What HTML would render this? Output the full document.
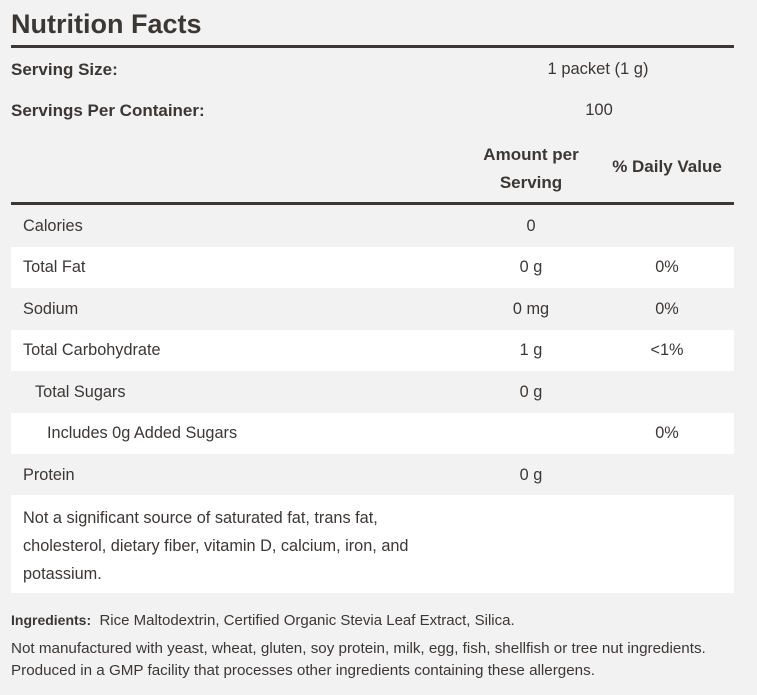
<!DOCTYPE html>
<html><head><style>
body{margin:0;width:757px;height:695px;background:#f2f2f2;font-family:"Liberation Sans",sans-serif;color:#3b3735;position:relative;overflow:hidden}
.a{position:absolute;white-space:nowrap}
.t{font-size:27px;font-weight:bold;left:11px;top:9px}
.b{font-size:17px;font-weight:bold}
.r{font-size:16.3px}
.row{position:absolute;left:11px;width:723px;height:41.5px}
.w{background:#fff}
.c{transform:translateX(-50%)}
</style></head><body>
<div class="a t">Nutrition Facts</div>
<div class="a" style="left:11px;top:45px;width:723px;height:3px;background:#3b3735"></div>
<div class="a b" style="left:11px;top:60px">Serving Size:</div>
<div class="a r c" style="left:598px;top:60px;font-size:16.5px">1 packet (1 g)</div>
<div class="a b" style="left:11px;top:101px">Servings Per Container:</div>
<div class="a r c" style="left:599px;top:101px;font-size:16.5px">100</div>
<div class="a b c" style="left:531px;top:141px;text-align:center;line-height:28px">Amount per<br>Serving</div>
<div class="a b c" style="left:667px;top:157px">% Daily Value</div>
<div class="a" style="left:11px;top:202px;width:723px;height:3px;background:#3b3735"></div>
<div class="row w" style="top:246.5px"></div>
<div class="row w" style="top:329.5px"></div>
<div class="row w" style="top:412.5px"></div>
<div class="row w" style="top:495px;height:98px"></div>
<div class="a r" style="left:23px;top:217px">Calories</div><div class="a r c" style="left:531px;top:217px">0</div>
<div class="a r" style="left:23px;top:258px">Total Fat</div><div class="a r c" style="left:531px;top:258px">0 g</div><div class="a r c" style="left:667px;top:258px">0%</div>
<div class="a r" style="left:23px;top:300px">Sodium</div><div class="a r c" style="left:531px;top:300px">0 mg</div><div class="a r c" style="left:667px;top:300px">0%</div>
<div class="a r" style="left:23px;top:341px">Total Carbohydrate</div><div class="a r c" style="left:531px;top:341px">1 g</div><div class="a r c" style="left:667px;top:341px">&lt;1%</div>
<div class="a r" style="left:35px;top:383px">Total Sugars</div><div class="a r c" style="left:531px;top:383px">0 g</div>
<div class="a r" style="left:47px;top:424px">Includes 0g Added Sugars</div><div class="a r c" style="left:667px;top:424px">0%</div>
<div class="a r" style="left:23px;top:466px">Protein</div><div class="a r c" style="left:531px;top:466px">0 g</div>
<div class="a r" style="left:23px;top:504px;line-height:28px;font-size:16.3px">Not a significant source of saturated fat, trans fat,<br>cholesterol, dietary fiber, vitamin D, calcium, iron, and<br>potassium.</div>
<div class="a" style="left:11px;top:612px;font-size:15px"><b style="font-size:14px">Ingredients:</b>&nbsp; Rice Maltodextrin, Certified Organic Stevia Leaf Extract, Silica.</div>
<div class="a" style="left:11px;top:638px;font-size:15.2px;line-height:22px">Not manufactured with yeast, wheat, gluten, soy protein, milk, egg, fish, shellfish or tree nut ingredients.<br>Produced in a GMP facility that processes other ingredients containing these allergens.</div>
</body></html>
